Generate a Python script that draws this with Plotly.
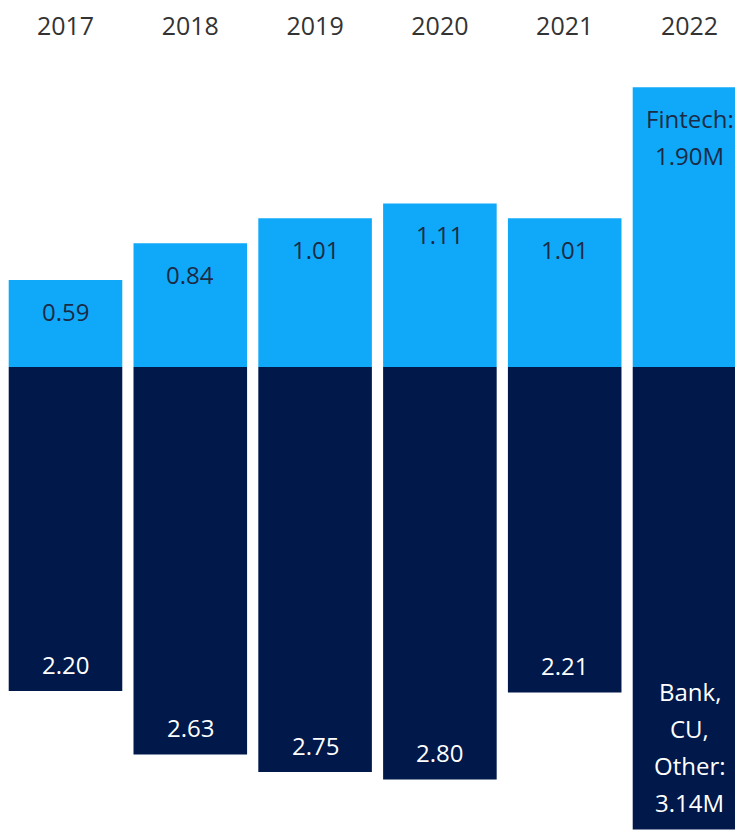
import plotly.graph_objects as go

years = ["2017", "2018", "2019", "2020", "2021", "2022"]
fintech = [0.59, 0.84, 1.01, 1.11, 1.01, 1.90]
bank = [2.20, 2.63, 2.75, 2.80, 2.21, 3.14]
fintech_labels = [["0.59"], ["0.84"], ["1.01"], ["1.11"], ["1.01"], ["Fintech:", "1.90M"]]
bank_labels = [["2.20"], ["2.63"], ["2.75"], ["2.80"], ["2.21"], ["Bank,", "CU,", "Other:", "3.14M"]]

LIGHT = "#10A9F9"
DARK = "#00184A"
FONT = "Segoe UI, Open Sans, sans-serif"

fig = go.Figure()
fig.add_trace(go.Bar(x=years, y=fintech, marker=dict(color=LIGHT, line=dict(width=0)),
                     name="Fintech", hoverinfo="skip"))
fig.add_trace(go.Bar(x=years, y=[-b for b in bank], marker=dict(color=DARK, line=dict(width=0)),
                     name="Bank, CU, Other", hoverinfo="skip"))

LINE = 37
annotations = []
for i, (v, lines) in enumerate(zip(fintech, fintech_labels)):
    for j, t in enumerate(lines):
        annotations.append(dict(x=i, y=v, xref="x", yref="y", text=t, showarrow=False,
                                yanchor="middle", yshift=-(31 + j * LINE),
                                font=dict(family=FONT, size=24, color="#1B2B45")))
for i, (v, lines) in enumerate(zip(bank, bank_labels)):
    n = len(lines)
    for j, t in enumerate(lines):
        annotations.append(dict(x=i, y=-v, xref="x", yref="y", text=t, showarrow=False,
                                yanchor="middle", yshift=27 + (n - 1 - j) * LINE,
                                font=dict(family=FONT, size=24, color="#FFFFFF")))

fig.update_layout(
    width=735, height=822,
    margin=dict(l=0, r=0, t=0, b=0, pad=0, autoexpand=False),
    paper_bgcolor="white", plot_bgcolor="white",
    barmode="relative", bargap=0.09,
    showlegend=False,
    annotations=annotations,
    xaxis=dict(type="category", side="top", range=[-0.4607, 5.4287],
               showgrid=False, zeroline=False, showline=False, ticks="",
               automargin=False, ticklabelposition="inside", ticklabelstandoff=6,
               tickfont=dict(family=FONT, size=25, color="#333333")),
    yaxis=dict(range=[-3.1433, 2.4372], visible=False, showgrid=False, zeroline=False,
               automargin=False),
)

fig.write_html("out.html")
